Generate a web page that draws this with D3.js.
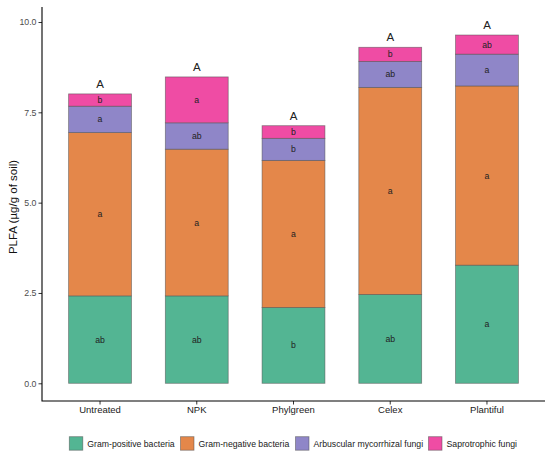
<!DOCTYPE html>
<html>
<head>
<meta charset="utf-8">
<script src="https://cdn.jsdelivr.net/npm/d3@7"></script>
<style>
  body { margin: 0; background: #fff; }
  text { font-family: "Liberation Sans", Arial, sans-serif; }
</style>
</head>
<body>
<script>
// treatments and the four PLFA groups (µg/g of soil)
const treatments = ["Untreated", "NPK", "Phylgreen", "Celex", "Plantiful"];
const groups = ["Gram-positive bacteria", "Gram-negative bacteria", "Arbuscular mycorrhizal fungi", "Saprotrophic fungi"];
const gramPos = [2.42, 2.42, 2.10, 2.46, 3.27];
const gramNeg = [4.52, 4.06, 4.07, 5.73, 4.96];
const amf     = [0.73, 0.73, 0.61, 0.72, 0.88];
const sapro   = [0.34, 1.27, 0.35, 0.39, 0.53];
// significance letters per segment and for the totals
const lettersPos   = ["ab", "ab", "b", "ab", "a"];
const lettersNeg   = ["a", "a", "a", "a", "a"];
const lettersAmf   = ["a", "ab", "b", "ab", "a"];
const lettersSapro = ["b", "a", "b", "b", "ab"];
const lettersTotal = ["A", "A", "A", "A", "A"];
const yTicks = [0, 2.5, 5, 7.5, 10];

const colors = ["#53b593", "#e4874a", "#8f86c8", "#ef4ca4"];

const W = 550, H = 458;
const MARGIN = {top: 7, right: 5, bottom: 57, left: 42};

const svg = d3.select("body").append("svg")
    .attr("width", W).attr("height", H);

// build the rows for the stack
const series = [gramPos, gramNeg, amf, sapro];
const letters = [lettersPos, lettersNeg, lettersAmf, lettersSapro];
const rows = treatments.map((t, i) => {
  const r = {treatment: t};
  groups.forEach((g, k) => r[g] = series[k][i]);
  return r;
});
const stacked = d3.stack().keys(groups)(rows);

// ggplot-like discrete axis: 0.6 units of padding each side, bars 0.65 wide
const x = d3.scaleBand()
    .domain(treatments)
    .range([MARGIN.left, W - MARGIN.right])
    .paddingInner(0.35)
    .paddingOuter(0.275);

const y = d3.scaleLinear()
    .domain([0, 10])
    .range([383.3, 22]);

const plot = svg.append("g");

stacked.forEach((layer, k) => {
  plot.append("g")
    .selectAll("rect")
    .data(layer)
    .join("rect")
      .attr("x", d => x(d.data.treatment))
      .attr("width", x.bandwidth())
      .attr("y", d => y(d[1]))
      .attr("height", d => y(d[0]) - y(d[1]))
      .attr("fill", colors[k])
      .attr("stroke", "#4d4d4d")
      .attr("stroke-opacity", 0.6)
      .attr("stroke-width", 0.8);

  plot.append("g")
    .selectAll("text")
    .data(layer)
    .join("text")
      .attr("x", d => x(d.data.treatment) + x.bandwidth() / 2)
      .attr("y", d => y((d[0] + d[1]) / 2))
      .attr("dy", "0.35em")
      .attr("text-anchor", "middle")
      .attr("font-size", 8.7)
      .attr("fill", "#222")
      .text((d, i) => letters[k][i]);
});

// total letters above the bars
const topLayer = stacked[stacked.length - 1];
plot.append("g")
  .selectAll("text")
  .data(topLayer)
  .join("text")
    .attr("x", d => x(d.data.treatment) + x.bandwidth() / 2)
    .attr("y", d => y(d[1]) - 10)
    .attr("dy", "0.35em")
    .attr("text-anchor", "middle")
    .attr("font-size", 11.5)
    .attr("fill", "#222")
    .text((d, i) => lettersTotal[i]);

// axes
const axisBottomY = H - MARGIN.bottom;
const yAxis = svg.append("g")
    .attr("transform", `translate(${MARGIN.left},0)`)
    .call(d3.axisLeft(y).tickValues(yTicks).tickFormat(d3.format(".1f")).tickSize(3.5).tickPadding(2));
yAxis.select(".domain").remove();
yAxis.selectAll(".tick line").attr("stroke", "#333");
yAxis.selectAll(".tick text").attr("font-size", 8.8).attr("fill", "#4d4d4d")
    .style("font-family", "'Liberation Sans', Arial, sans-serif");

const xAxis = svg.append("g")
    .attr("transform", `translate(0,${axisBottomY})`)
    .call(d3.axisBottom(x).tickSize(3.5).tickPadding(2));
xAxis.select(".domain").remove();
xAxis.selectAll(".tick line").attr("stroke", "#333");
xAxis.selectAll(".tick text").attr("font-size", 9.5).attr("fill", "#1a1a1a")
    .style("font-family", "'Liberation Sans', Arial, sans-serif");

// axis lines
svg.append("path")
    .attr("d", `M${MARGIN.left},${MARGIN.top}V${axisBottomY}H${W - MARGIN.right}`)
    .attr("fill", "none")
    .attr("stroke", "#000")
    .attr("stroke-width", 1.1);

// y label
svg.append("text")
    .attr("transform", `translate(12.5,207) rotate(-90)`)
    .attr("text-anchor", "middle")
    .attr("dy", "0.35em")
    .attr("font-size", 11.5)
    .attr("fill", "#111")
    .text("PLFA (µg/g of soil)");

// legend
const legend = svg.append("g").attr("transform", "translate(0,443.5)");
const legendX = [69.3, 180.5, 295.5, 428.5];
groups.forEach((g, k) => {
  const it = legend.append("g").attr("transform", `translate(${legendX[k]},0)`);
  it.append("rect")
    .attr("x", 0).attr("y", -6.8)
    .attr("width", 13.5).attr("height", 13.5)
    .attr("fill", colors[k])
    .attr("stroke", "#4d4d4d").attr("stroke-opacity", 0.6).attr("stroke-width", 0.8);
  it.append("text")
    .attr("x", 18)
    .attr("dy", "0.35em")
    .attr("font-size", 8.7)
    .attr("fill", "#1a1a1a")
    .text(g);
});
</script>
</body>
</html>
